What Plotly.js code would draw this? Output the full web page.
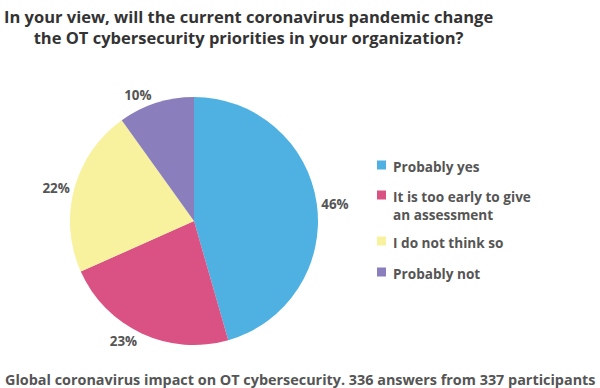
<!DOCTYPE html>
<html>
<head>
<meta charset="utf-8">
<script src="https://cdn.plot.ly/plotly-3.0.1.min.js"></script>
<style>html,body{margin:0;padding:0;background:#fff}#chart{width:600px;height:388px}</style>
</head>
<body>
<div id="chart"></div>
<script>
var labels = ["Probably yes", "It is too early to give<br>an assessment", "I do not think so", "Probably not"];
var values = [46, 23, 22, 10];
var colors = ["#4FB1E2", "#D95283", "#F8F19E", "#8B7EBC"];
var titleText = "In your view, will the current coronavirus pandemic change<br>the OT cybersecurity priorities in your organization?";
var footerText = "Global coronavirus impact on OT cybersecurity. 336 answers from 337 participants";

var FONT = "'Open Sans', sans-serif";
var legendY = [165, 195, 241, 272]; // pixel centers of first line
var H = 388, W = 600;

var annotations = [];
var shapes = [];
labels.forEach(function (lab, i) {
  var yc = legendY[i];
  shapes.push({
    type: "rect", xref: "paper", yref: "paper",
    x0: 377 / W, x1: 386 / W, y0: 1 - (yc + 4.5) / H, y1: 1 - (yc - 4.5) / H,
    fillcolor: colors[i], line: { width: 0 }
  });
  annotations.push({
    xref: "paper", yref: "paper", x: 391 / W, y: 1 - (yc - 10) / H,
    xanchor: "left", yanchor: "top", align: "left", showarrow: false,
    text: "<b>" + lab + "</b>",
    font: { family: FONT, size: 13.6, color: "#555555" }
  });
});
annotations.push({
  xref: "paper", yref: "paper", x: 300 / W, y: 1 - 379 / H,
  xanchor: "center", yanchor: "middle", showarrow: false,
  text: "<b>" + footerText + "</b>",
  font: { family: FONT, size: 14.4, color: "#555555" }
});
annotations.push({
  xref: "paper", yref: "paper", x: 248 / W, y: 1 - 3 / H,
  xanchor: "center", yanchor: "top", align: "center", showarrow: false,
  text: "<b>" + titleText + "</b>",
  font: { family: FONT, size: 16.5, color: "#333333" }
});

var data = [{
  type: "pie",
  labels: labels,
  values: values,
  marker: { colors: colors, line: { width: 0 } },
  sort: false,
  direction: "clockwise",
  rotation: 0,
  textposition: "outside",
  texttemplate: "<b>%{value}%</b>",
  textfont: { family: FONT, size: 13.4, color: "#555555" },
  hoverinfo: "none",
  domain: { x: [(194 - 124) / W, (194 + 124) / W], y: [(167 - 124) / H, (167 + 124) / H] },
  showlegend: false
}];

var layout = {
  width: W, height: H,
  margin: { l: 0, r: 0, t: 0, b: 0 },
  paper_bgcolor: "#ffffff",
  showlegend: false,
  annotations: annotations,
  shapes: shapes
};

Plotly.newPlot("chart", data, layout, { displayModeBar: false, staticPlot: true });
</script>
</body>
</html>
